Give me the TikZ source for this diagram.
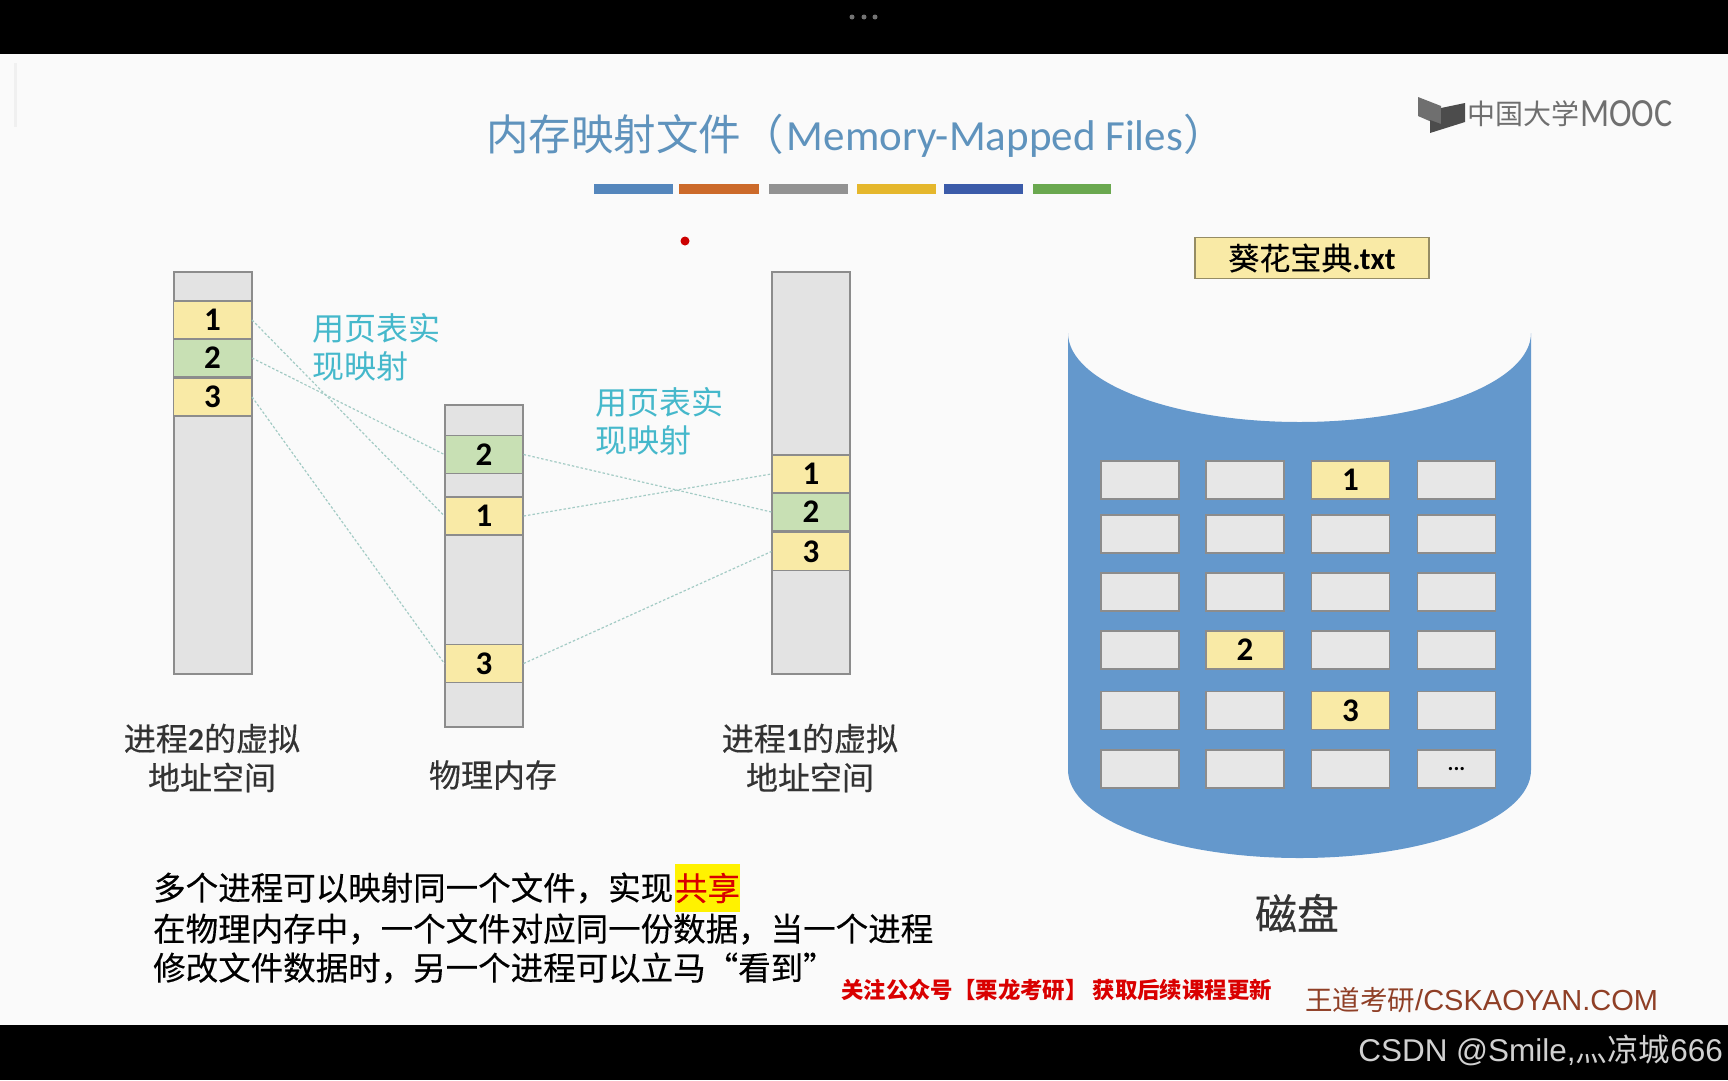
\documentclass[tikz,border=0pt]{standalone}
\usepackage{fontspec}
\setmainfont{Noto Sans CJK SC}
\newfontfamily\latinfont{Carlito}
\newfontfamily\arialfont{Liberation Sans}
\newfontfamily\heavyfont[FakeBold=0.35]{Noto Sans CJK SC}
\definecolor{titleblue}{HTML}{5F93BD}
\definecolor{cellgray}{HTML}{E3E3E3}
\definecolor{cellyellow}{HTML}{F9EAA6}
\definecolor{cellgreen}{HTML}{C8E0B4}
\definecolor{edgegray}{HTML}{8C8C8C}
\definecolor{diskblue}{HTML}{6498CC}
\definecolor{mapcyan}{HTML}{45B8CB}
\definecolor{dashteal}{HTML}{A3CBC5}
\definecolor{logogray}{HTML}{6F6F6F}
\definecolor{wdbrown}{HTML}{8F3F26}
\tikzset{
  memcol/.style={draw=edgegray,line width=2pt,fill=cellgray,inner sep=0pt,minimum width=78pt},
  vcell/.style={draw=black!45,line width=1.2pt,inner sep=0pt,minimum width=78pt,minimum height=38pt,font=\latinfont\bfseries\fontsize{33}{38}\selectfont},
  diskblock/.style={draw=black!45,line width=1.5pt,fill=cellgray!85!white,inner sep=0pt,minimum width=78pt,minimum height=38pt},
  diskfile/.style={diskblock,fill=cellyellow,font=\latinfont\bfseries\fontsize{33}{38}\selectfont},
  maptext/.style={text=mapcyan,anchor=west,inner sep=0pt,align=left,font=\fontsize{32}{38}\selectfont},
  caption/.style={text=black!80,inner sep=0pt,align=center,font=\heavyfont\fontsize{32}{39}\selectfont},
  noteline/.style={text=black,anchor=west,inner sep=0pt,font=\heavyfont\fontsize{32.5}{38}\selectfont},
  mapline/.style={draw=dashteal,line width=1.2pt,dash pattern=on 2.5pt off 2pt},
  colorbar/.style={line width=0pt}
}
\begin{document}
\begin{tikzpicture}[x=1pt,y=-1pt]
\useasboundingbox (0,0) rectangle (1728,1080);
\fill[white!98!black] (0,0) rectangle (1728,1080);
\fill[black] (0,0) rectangle (1728,54);
\fill[black] (0,1025) rectangle (1728,1080);
\fill[black!55] (852,17) circle (2.5);
\fill[black!55] (864,17) circle (2.5);
\fill[black!55] (875,17) circle (2.5);
\fill[black!6] (14,63) rectangle (17,127);
\node[inner sep=0pt,text=titleblue,font=\fontsize{42.5}{48}\selectfont] (title) at (856,136) {内存映射文件（\hspace{3pt}{\latinfont\fontsize{43}{48}\selectfont Memory-Mapped Files}）};
\fill[colorbar,fill={rgb,255:red,84;green,134;blue,188}] (594,184) rectangle (673,194);
\fill[colorbar,fill={rgb,255:red,204;green,106;blue,42}] (679,184) rectangle (759,194);
\fill[colorbar,fill={rgb,255:red,146;green,146;blue,146}] (769,184) rectangle (848,194);
\fill[colorbar,fill={rgb,255:red,229;green,183;blue,44}] (857,184) rectangle (936,194);
\fill[colorbar,fill={rgb,255:red,59;green,91;blue,169}] (944,184) rectangle (1023,194);
\fill[colorbar,fill={rgb,255:red,106;green,168;blue,79}] (1033,184) rectangle (1111,194);
\fill[red!80!black] (685,241) circle (4.5);
\fill[logogray] (1418,97) -- (1441,106) -- (1441,126) -- (1418,116) -- cycle;
\fill[black!70] (1441,108) -- (1465,103) -- (1465,122) -- (1430,133) -- (1430,120) -- (1441,124) -- cycle;
\node[inner sep=0pt,anchor=west,text=logogray,font=\fontsize{28}{32}\selectfont] (logocn) at (1467,114) {中国大学};
\node[inner sep=0pt,anchor=west,text=logogray,xscale=0.85,transform shape,font=\latinfont\fontsize{40}{44}\selectfont] (logoen) at (1580,114) {MOOC};
\node[memcol,minimum height=402pt] (vleft) at (212.5,473) {};
\node[memcol,minimum height=322pt] (phys) at (484,566) {};
\node[memcol,minimum height=402pt] (vright) at (811,473) {};
\node[vcell,fill=cellyellow] (la) at (212.5,320) {1};
\node[vcell,fill=cellgreen] (lb) at (212.5,358) {2};
\node[vcell,fill=cellyellow] (lc) at (212.5,397) {3};
\node[vcell,fill=cellgreen] (pb) at (484,454.5) {2};
\node[vcell,fill=cellyellow] (pa) at (484,516) {1};
\node[vcell,fill=cellyellow] (pc) at (484,663.5) {3};
\node[vcell,fill=cellyellow] (ra) at (811,474) {1};
\node[vcell,fill=cellgreen] (rb) at (811,512) {2};
\node[vcell,fill=cellyellow] (rc) at (811,551.5) {3};
\draw[mapline] (la.east) -- (pa.west);
\draw[mapline] (lb.east) -- (pb.west);
\draw[mapline] (lc.east) -- (pc.west);
\draw[mapline] (pa.east) -- (ra.west);
\draw[mapline] (pb.east) -- (rb.west);
\draw[mapline] (pc.east) -- (rc.west);
\node[maptext] (mapa) at (312,347) {用页表实\\现映射};
\node[maptext] (mapb) at (595,421) {用页表实\\现映射};
\node[caption] (capl) at (212,758) {进程{\latinfont\bfseries 2}的虚拟\\地址空间};
\node[caption] (capm) at (493,775) {物理内存};
\node[caption] (capr) at (810,758) {进程{\latinfont\bfseries 1}的虚拟\\地址空间};
\node[draw=cellyellow!60!black,line width=1.5pt,fill=cellyellow,inner sep=0pt,minimum width=234pt,minimum height=41pt,font=\heavyfont\fontsize{31}{36}\selectfont] (filebox) at (1312,258) {葵花宝典{\latinfont\bfseries .txt}};
\fill[diskblue] (1068,333) .. controls (1068,382) and (1172,422) .. (1299.5,422) .. controls (1427,422) and (1531,382) .. (1531,333) -- (1531,770) .. controls (1531,819) and (1427,858) .. (1299.5,858) .. controls (1172,858) and (1068,819) .. (1068,770) -- cycle;
\node[diskblock] (da) at (1140,480) {};
\node[diskblock] (db) at (1245,480) {};
\node[diskfile] (dc) at (1350.5,480) {1};
\node[diskblock] (dd) at (1456.5,480) {};
\node[diskblock] (de) at (1140,534) {};
\node[diskblock] (df) at (1245,534) {};
\node[diskblock] (dg) at (1350.5,534) {};
\node[diskblock] (dh) at (1456.5,534) {};
\node[diskblock] (di) at (1140,592) {};
\node[diskblock] (dj) at (1245,592) {};
\node[diskblock] (dk) at (1350.5,592) {};
\node[diskblock] (dl) at (1456.5,592) {};
\node[diskblock] (dm) at (1140,650) {};
\node[diskfile] (dn) at (1245,650) {2};
\node[diskblock] (do) at (1350.5,650) {};
\node[diskblock] (dp) at (1456.5,650) {};
\node[diskblock] (dq) at (1140,710.5) {};
\node[diskblock] (dr) at (1245,710.5) {};
\node[diskfile] (ds) at (1350.5,710.5) {3};
\node[diskblock] (dt) at (1456.5,710.5) {};
\node[diskblock] (du) at (1140,769) {};
\node[diskblock] (dv) at (1245,769) {};
\node[diskblock] (dw) at (1350.5,769) {};
\node[diskblock,font=\latinfont\bfseries\fontsize{22}{24}\selectfont] (dx) at (1456.5,769) {...};
\node[caption,font=\heavyfont\fontsize{42}{46}\selectfont] (capd) at (1297,913) {磁盘};
\node[noteline] (notea) at (153,888) {多个进程可以映射同一个文件，实现};
\node[inner sep=0pt,minimum width=65pt,minimum height=48pt,fill=yellow,text=red!85!black,font=\heavyfont\fontsize{32.5}{38}\selectfont] (share) at (707.5,888) {共享};
\node[noteline] (noteb) at (153,929) {在物理内存中，一个文件对应同一份数据，当一个进程};
\node[noteline] (notec) at (153,968) {修改文件数据时，另一个进程可以立马“看到”};
\node[inner sep=0pt,anchor=west,text=red!85!black,font=\bfseries\fontsize{22.4}{26}\selectfont] (promo) at (841,990) {关注公众号【栗龙考研】 获取后续课程更新};
\node[inner sep=0pt,anchor=west,text=wdbrown,font=\fontsize{27.5}{34}\selectfont] (brand) at (1305,1000) {王道考研{\arialfont\fontsize{29}{34}\selectfont /CSKAOYAN.COM}};
\node[inner sep=0pt,anchor=east,text=black!18,font=\fontsize{31.5}{36}\selectfont] (mark) at (1723,1050) {{\arialfont CSDN @Smile,}灬凉城{\arialfont 666}};
\end{tikzpicture}
\end{document}
